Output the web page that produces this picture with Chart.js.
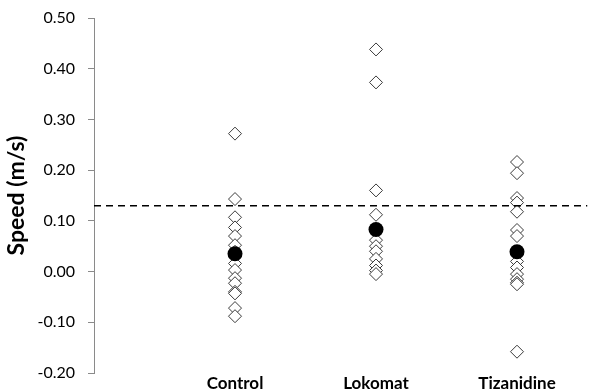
<!DOCTYPE html>
<html>
<head>
<meta charset="utf-8">
<script src="https://cdn.jsdelivr.net/npm/chart.js@4"></script>
<style>
html,body{margin:0;padding:0;background:#fff;}
#wrap{width:595px;height:391px;}
</style>
</head>
<body>
<div id="wrap"><canvas id="c" width="595" height="391"></canvas></div>
<script>
const categories = ['Control', 'Lokomat', 'Tizanidine'];
const controlValues = [0.272, 0.143, 0.107, 0.087, 0.070, 0.052, 0.039, 0.016, 0.003, -0.013, -0.023, -0.040, -0.043, -0.072, -0.088];
const lokomatValues = [0.438, 0.373, 0.160, 0.112, 0.062, 0.050, 0.040, 0.025, 0.012, 0.002, -0.005];
const tizanidineValues = [0.216, 0.194, 0.145, 0.136, 0.118, 0.082, 0.070, 0.020, 0.008, -0.005, -0.015, -0.022, -0.025, -0.158];
const meanValues = [0.035, 0.083, 0.039];
const thresholdValue = 0.13;
const yTicks = [-0.2, -0.1, 0, 0.1, 0.2, 0.3, 0.4, 0.5];

const groups = [controlValues, lokomatValues, tizanidineValues];
const individualPoints = [];
groups.forEach((arr, i) => arr.forEach(v => individualPoints.push({x: i + 1, y: v})));
const meanPoints = meanValues.map((v, i) => ({x: i + 1, y: v}));
const thresholdPoints = [{x: 0, y: thresholdValue}, {x: 3.5, y: thresholdValue}];

new Chart(document.getElementById('c'), {
  type: 'scatter',
  data: {
    datasets: [
      {
        label: 'Individual',
        data: individualPoints,
        pointStyle: 'rectRot',
        pointRadius: 6.5,
        backgroundColor: '#ffffff',
        borderColor: '#3a3a3a',
        borderWidth: 1,
        order: 3
      },
      {
        label: 'Mean',
        data: meanPoints,
        pointStyle: 'circle',
        pointRadius: 7.5,
        backgroundColor: '#000000',
        borderColor: '#000000',
        borderWidth: 0,
        order: 2
      },
      {
        label: 'Threshold',
        type: 'line',
        data: thresholdPoints,
        borderColor: '#000000',
        borderWidth: 1.5,
        borderDash: [7, 5],
        pointRadius: 0,
        fill: false,
        order: 1
      }
    ]
  },
  options: {
    responsive: false,
    animation: false,
    layout: {padding: {top: 18, right: 0, bottom: 0, left: 0}},
    plugins: {legend: {display: false}, tooltip: {enabled: false}},
    scales: {
      x: {
        type: 'linear',
        min: 0,
        max: 3.5,
        grid: {display: false, drawTicks: false},
        border: {display: false},
        afterBuildTicks: s => { s.ticks = categories.map((c, i) => ({value: i + 1})); },
        afterFit: s => { s.height = 18; s.paddingLeft = 0; s.paddingRight = 0; },
        ticks: {
          padding: 0,
          autoSkip: false,
          maxRotation: 0,
          color: '#000000',
          font: {family: 'Lato', size: 17, weight: 'bold'},
          callback: v => categories[Math.round(v) - 1] || ''
        }
      },
      y: {
        min: -0.2,
        max: 0.5,
        afterBuildTicks: s => { s.ticks = yTicks.map(v => ({value: v})); },
        afterFit: s => { s.width = 94; s.paddingTop = 0; s.paddingBottom = 0; },
        grid: {drawOnChartArea: false, drawTicks: true, tickLength: 6, color: '#8a8a8a'},
        border: {display: true, color: '#8a8a8a', width: 1},
        ticks: {
          padding: 13,
          color: '#000000',
          font: {family: 'Lato', size: 16},
          callback: v => v.toFixed(2)
        },
        title: {
          display: true,
          text: 'Speed (m/s)',
          color: '#000000',
          font: {family: 'Lato', size: 23, weight: 'bold'},
          padding: {top: 3, bottom: 0}
        }
      }
    }
  }
});
</script>
</body>
</html>
